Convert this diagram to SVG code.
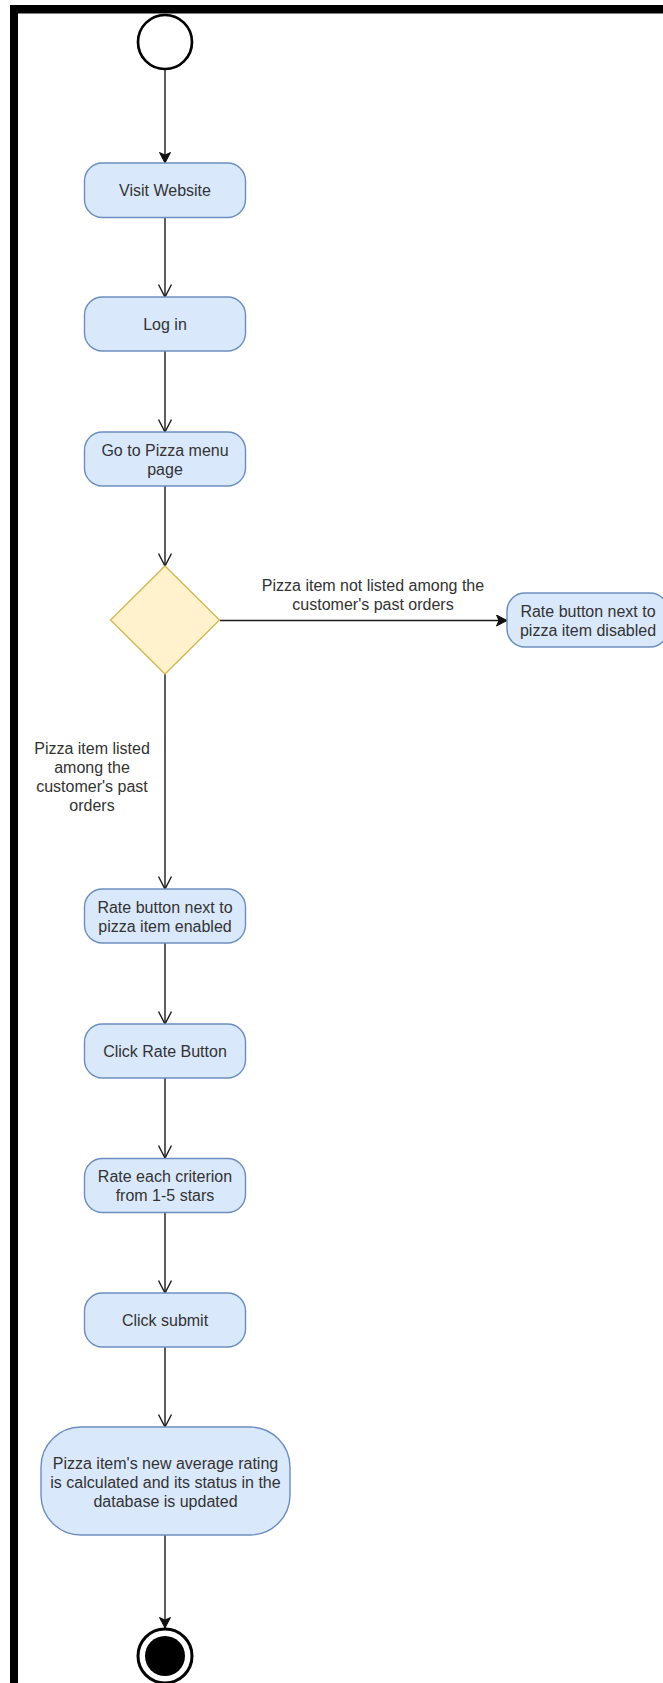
<svg xmlns="http://www.w3.org/2000/svg" width="663" height="1683" viewBox="0 0 663 1683">
  <defs>
    <style>
      .act { fill: #dae8fc; stroke: #6c8ebf; stroke-width: 1.4; }
      .dec { fill: #fff2cc; stroke: #d6b656; stroke-width: 1.4; }
      .lbl { font-family: "Liberation Sans", Arial, Helvetica, sans-serif; font-size: 16px; fill: #333333; text-anchor: middle; dominant-baseline: central; }
      .edge { fill: none; stroke: #1a1a1a; stroke-width: 1.4; }
      .open { marker-end: url(#openArrow); }
      .solid { marker-end: url(#filledArrow); }
    </style>
    <!-- arrowheads drawn along +x so orient="auto" follows the line -->
    <marker id="openArrow" viewBox="0 0 14 14" refX="13" refY="7" markerWidth="14" markerHeight="14" markerUnits="userSpaceOnUse" orient="auto">
      <path d="M0.5,0.5 L13,7 L0.5,13.5" fill="none" stroke="#1a1a1a" stroke-width="1.4"/>
    </marker>
    <marker id="filledArrow" viewBox="0 0 12 12" refX="11" refY="6" markerWidth="12" markerHeight="12" markerUnits="userSpaceOnUse" orient="auto">
      <path d="M0.5,0.5 L11,6 L0.5,11.5 L3,6 Z" fill="#111111" stroke="#111111" stroke-width="1"/>
    </marker>
  </defs>

  <rect width="663" height="1683" fill="#ffffff"/>

  <!-- page frame: thick top and left edges -->
  <g id="frame">
    <rect x="10" y="5" width="653" height="8.5" fill="#000000"/>
    <rect x="10" y="5" width="8" height="1678" fill="#000000"/>
  </g>

  <!-- connectors -->
  <g id="connectors">
    <path class="edge solid" d="M165,70 L165,163"/>
    <path class="edge open" d="M165,218 L165,297"/>
    <path class="edge open" d="M165,351 L165,432"/>
    <path class="edge open" d="M165,486 L165,566"/>
    <path class="edge open" d="M165,674 L165,889"/>
    <path class="edge solid" d="M220,620.5 L507,620.5"/>
    <path class="edge open" d="M165,943 L165,1024"/>
    <path class="edge open" d="M165,1078 L165,1158"/>
    <path class="edge open" d="M165,1213 L165,1293"/>
    <path class="edge open" d="M165,1347 L165,1427"/>
    <path class="edge solid" d="M165,1535 L165,1628"/>
    <text class="lbl" x="373" y="585">Pizza item not listed among the</text>
    <text class="lbl" x="373" y="604">customer's past orders</text>
    <text class="lbl" x="92" y="748">Pizza item listed</text>
    <text class="lbl" x="92" y="767">among the</text>
    <text class="lbl" x="92" y="786">customer's past</text>
    <text class="lbl" x="92" y="805">orders</text>
  </g>

  <g id="start">
    <circle cx="165" cy="42" r="27" fill="#ffffff" stroke="#000000" stroke-width="2.7"/>
  </g>

  <g id="visit-website">
    <rect class="act" x="84.5" y="163" width="161" height="54.5" rx="18"/>
    <text class="lbl" x="165" y="190">Visit Website</text>
  </g>

  <g id="log-in">
    <rect class="act" x="84.5" y="297" width="161" height="54" rx="18"/>
    <text class="lbl" x="165" y="324">Log in</text>
  </g>

  <g id="pizza-menu">
    <rect class="act" x="84.5" y="432" width="161" height="54" rx="18"/>
    <text class="lbl" x="165" y="450">Go to Pizza menu</text>
    <text class="lbl" x="165" y="469">page</text>
  </g>

  <g id="past-order-check">
    <polygon class="dec" points="165,566 219.5,620 165,674 110.5,620"/>
  </g>

  <g id="rate-disabled">
    <rect class="act" x="507" y="593" width="161" height="54" rx="18"/>
    <text class="lbl" x="588" y="611">Rate button next to</text>
    <text class="lbl" x="588" y="630">pizza item disabled</text>
  </g>

  <g id="rate-enabled">
    <rect class="act" x="84.5" y="889" width="161" height="54" rx="18"/>
    <text class="lbl" x="165" y="907">Rate button next to</text>
    <text class="lbl" x="165" y="926">pizza item enabled</text>
  </g>

  <g id="click-rate">
    <rect class="act" x="84.5" y="1024" width="161" height="54" rx="18"/>
    <text class="lbl" x="165" y="1051">Click Rate Button</text>
  </g>

  <g id="rate-criteria">
    <rect class="act" x="84.5" y="1158.5" width="161" height="54" rx="18"/>
    <text class="lbl" x="165" y="1176">Rate each criterion</text>
    <text class="lbl" x="165" y="1195">from 1-5 stars</text>
  </g>

  <g id="click-submit">
    <rect class="act" x="84.5" y="1293" width="161" height="54" rx="18"/>
    <text class="lbl" x="165" y="1320">Click submit</text>
  </g>

  <g id="update-rating">
    <rect class="act" x="41" y="1427" width="249" height="108" rx="40"/>
    <text class="lbl" x="165.5" y="1463">Pizza item's new average rating</text>
    <text class="lbl" x="165.5" y="1482">is calculated and its status in the</text>
    <text class="lbl" x="165.5" y="1501">database is updated</text>
  </g>

  <g id="end">
    <circle cx="165" cy="1656" r="27" fill="#ffffff" stroke="#000000" stroke-width="3"/>
    <circle cx="165" cy="1656" r="20" fill="#000000"/>
  </g>
</svg>
